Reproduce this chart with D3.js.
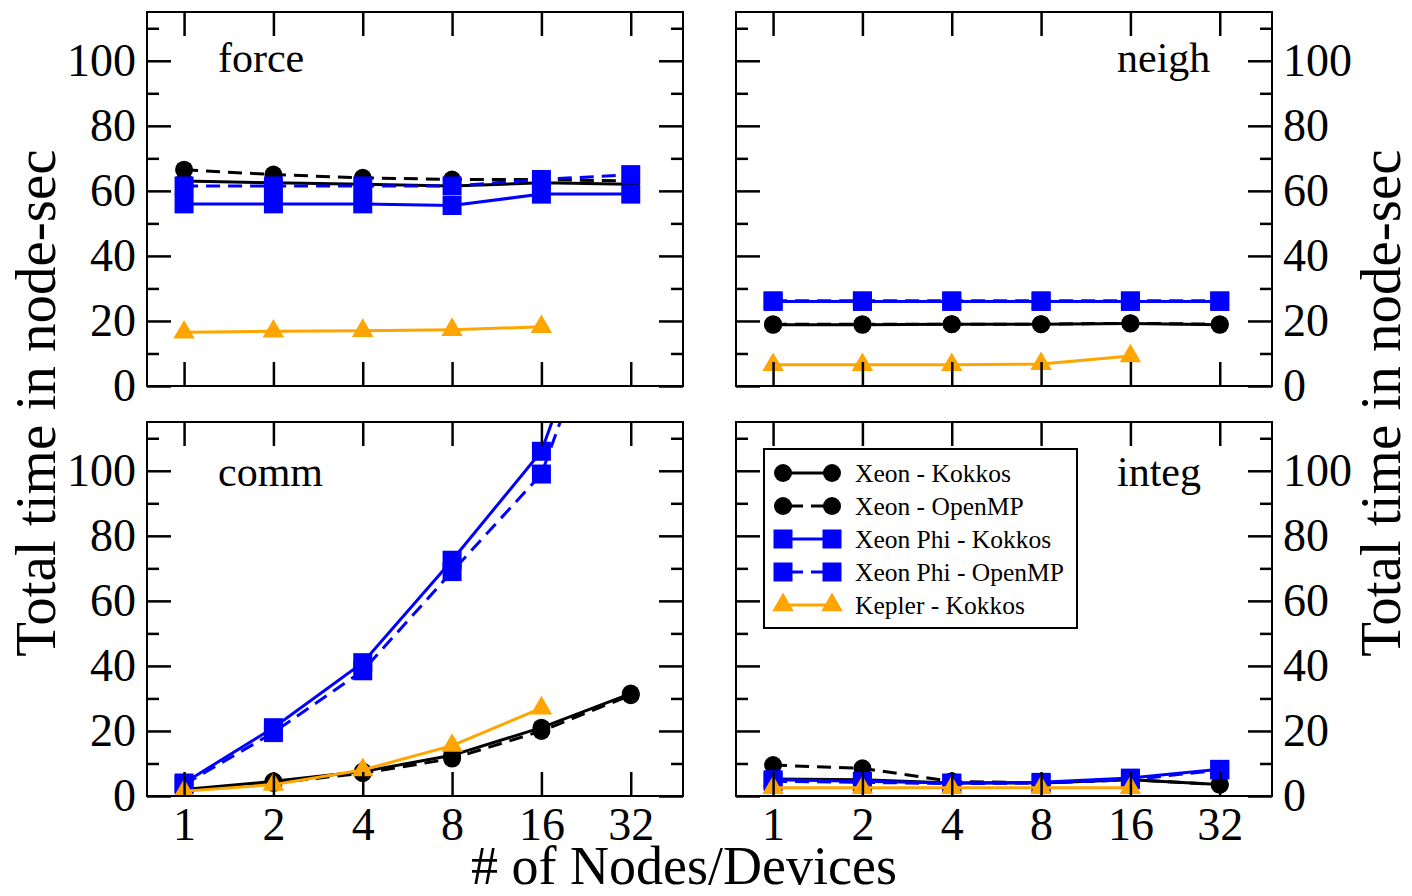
<!DOCTYPE html>
<html>
<head>
<meta charset="utf-8">
<script src="https://cdn.jsdelivr.net/npm/d3@7"></script>
<style>
  body { margin: 0; background: #fff; }
  text { font-family: "Liberation Serif", "Times New Roman", serif; fill: #000; }
</style>
</head>
<body>
<div id="chart"></div>
<script>
// x values (nodes / devices)
const nodes = [1, 2, 4, 8, 16, 32];
const yMajor = [0, 20, 40, 60, 80, 100];
const yMinor = [10, 30, 50, 70, 90, 110];

const seriesNames = ["Xeon - Kokkos", "Xeon - OpenMP", "Xeon Phi - Kokkos", "Xeon Phi - OpenMP", "Kepler - Kokkos"];
const seriesColors = ["#000000", "#000000", "#0000ff", "#0000ff", "#ffa500"];
const seriesDashed = [false, true, false, true, false];
const seriesShapes = ["circle", "circle", "square", "square", "triangle"];

// force
const forceXeonKokkos = [63, 62.5, 62, 61.5, 62.5, 62];
const forceXeonOpenMP = [66.5, 65, 64, 63.5, 63.5, 63];
const forcePhiKokkos = [56, 56, 56, 55.5, 59, 59];
const forcePhiOpenMP = [61.5, 61.5, 61.5, 61.5, 63.5, 65];
const forceKepler = [16.5, 16.8, 17, 17.3, 18.2];

// neigh
const neighXeonKokkos = [18.8, 18.8, 19, 19, 19.2, 18.8];
const neighXeonOpenMP = [19, 19, 19, 19, 19.3, 19];
const neighPhiKokkos = [26, 26, 26, 26, 26, 26];
const neighPhiOpenMP = [26.2, 26.2, 26.2, 26.2, 26.2, 26.2];
const neighKepler = [6.5, 6.5, 6.5, 6.8, 9.2];

// comm
const commXeonKokkos = [2, 4.5, 7.5, 12.5, 21, 31.5];
const commXeonOpenMP = [2, 4, 7, 11.5, 20, 31];
const commPhiKokkos = [4, 21, 41, 72.5, 106, 182];
const commPhiOpenMP = [3.5, 19.5, 38.5, 69, 99, 175];
const commKepler = [1.5, 3.5, 8, 15.5, 27];

// integ
const integXeonKokkos = [5.2, 5, 4, 4, 5, 3.5];
const integXeonOpenMP = [9.5, 8.5, 4.5, 4, 5, 3.5];
const integPhiKokkos = [5, 4.5, 4, 4.2, 5.5, 8.2];
const integPhiOpenMP = [4.5, 4.2, 3.8, 4, 5, 8];
const integKepler = [2.5, 2.5, 2.5, 2.5, 2.5];

const panels = [
  { name: "force", col: 0, row: 0, series: [forceXeonKokkos, forceXeonOpenMP, forcePhiKokkos, forcePhiOpenMP, forceKepler] },
  { name: "neigh", col: 1, row: 0, series: [neighXeonKokkos, neighXeonOpenMP, neighPhiKokkos, neighPhiOpenMP, neighKepler] },
  { name: "comm", col: 0, row: 1, series: [commXeonKokkos, commXeonOpenMP, commPhiKokkos, commPhiOpenMP, commKepler] },
  { name: "integ", col: 1, row: 1, series: [integXeonKokkos, integXeonOpenMP, integPhiKokkos, integPhiOpenMP, integKepler] }
];

// layout
const W = 1412, H = 896;
const pw = 536, ph = 374;
const colX = [147, 736];
const rowY = [12, 422];

const svg = d3.select("#chart").append("svg")
  .attr("width", W)
  .attr("height", H);

const x = d3.scaleLog().base(2).domain([0.75, 48]).range([0, pw]);
const y = d3.scaleLinear().domain([0, 115]).range([ph, 0]);

const symbolType = { circle: d3.symbolCircle, square: d3.symbolSquare, triangle: d3.symbolTriangle };
const symbolSize = { circle: 254, square: 361, triangle: 200 };

const line = d3.line()
  .x(function(d, i) { return x(nodes[i]); })
  .y(function(d) { return y(d); });

function noDomain(g) { g.select(".domain").remove(); }

panels.forEach(function(p, pi) {
  const g = svg.append("g")
    .attr("transform", "translate(" + colX[p.col] + "," + rowY[p.row] + ")");

  g.append("clipPath").attr("id", "clip" + pi)
    .append("rect").attr("width", pw).attr("height", ph);

  const plot = g.append("g").attr("clip-path", "url(#clip" + pi + ")");

  p.series.forEach(function(vals, si) {
    plot.append("path")
      .attr("d", line(vals))
      .attr("fill", "none")
      .attr("stroke", seriesColors[si])
      .attr("stroke-width", 3)
      .attr("stroke-dasharray", seriesDashed[si] ? "14,8" : null);

    plot.selectAll(".m" + si)
      .data(vals)
      .enter()
      .append("path")
        .attr("transform", function(d, i) { return "translate(" + x(nodes[i]) + "," + y(d) + ")"; })
        .attr("d", d3.symbol().type(symbolType[seriesShapes[si]]).size(symbolSize[seriesShapes[si]]))
        .attr("fill", seriesColors[si]);
  });

  // frame
  g.append("rect")
    .attr("width", pw).attr("height", ph)
    .attr("fill", "none").attr("stroke", "#000").attr("stroke-width", 2);

  const left = p.col === 0, bottom = p.row === 1;

  // y ticks, both sides, pointing inward
  g.append("g")
    .call(d3.axisLeft(y).tickValues(yMajor).tickSize(-24).tickPadding(11)
      .tickFormat(left ? d3.format("d") : ""))
    .call(noDomain);
  g.append("g")
    .call(d3.axisLeft(y).tickValues(yMinor).tickSize(-12).tickFormat(""))
    .call(noDomain);
  g.append("g")
    .attr("transform", "translate(" + pw + ",0)")
    .call(d3.axisRight(y).tickValues(yMajor).tickSize(-24).tickPadding(11)
      .tickFormat(left ? "" : d3.format("d")))
    .call(noDomain);
  g.append("g")
    .attr("transform", "translate(" + pw + ",0)")
    .call(d3.axisRight(y).tickValues(yMinor).tickSize(-12).tickFormat(""))
    .call(noDomain);

  // x ticks top and bottom
  g.append("g")
    .call(d3.axisTop(x).tickValues(nodes).tickSize(-24).tickFormat(""))
    .call(noDomain);
  g.append("g")
    .attr("transform", "translate(0," + ph + ")")
    .call(d3.axisBottom(x).tickValues(nodes).tickSize(-24).tickPadding(11)
      .tickFormat(bottom ? d3.format("d") : ""))
    .call(noDomain);

  g.selectAll(".tick line").attr("stroke", "#000").attr("stroke-width", 2.5);
  g.selectAll(".tick text").attr("font-size", 46).attr("font-family", null);

  // panel label
  g.append("text")
    .attr("x", left ? 71 : 381)
    .attr("y", bottom ? 64 : 60)
    .attr("font-size", 42)
    .text(p.name);
});

// axis titles
svg.append("text")
  .attr("transform", "translate(55,403) rotate(-90)")
  .attr("text-anchor", "middle")
  .attr("font-size", 57)
  .text("Total time in node-sec");
svg.append("text")
  .attr("transform", "translate(1400,403) rotate(-90)")
  .attr("text-anchor", "middle")
  .attr("font-size", 57)
  .text("Total time in node-sec");
svg.append("text")
  .attr("x", 684).attr("y", 884)
  .attr("text-anchor", "middle")
  .attr("font-size", 54)
  .text("# of Nodes/Devices");

// legend
const legend = svg.append("g").attr("transform", "translate(764,449)");
legend.append("rect")
  .attr("width", 313).attr("height", 179)
  .attr("fill", "#fff").attr("stroke", "#000").attr("stroke-width", 2);

seriesNames.forEach(function(name, si) {
  const row = legend.append("g").attr("transform", "translate(0," + (24 + si * 33) + ")");
  row.append("line")
    .attr("x1", 19).attr("x2", 68)
    .attr("stroke", seriesColors[si]).attr("stroke-width", 3)
    .attr("stroke-dasharray", seriesDashed[si] ? "14,8" : null)
    .attr("stroke-dashoffset", seriesDashed[si] ? -6 : null);
  [19, 68].forEach(function(mx) {
    row.append("path")
      .attr("transform", "translate(" + mx + ",0)")
      .attr("d", d3.symbol().type(symbolType[seriesShapes[si]]).size(symbolSize[seriesShapes[si]]))
      .attr("fill", seriesColors[si]);
  });
  row.append("text")
    .attr("x", 91).attr("dy", "0.35em")
    .attr("font-size", 25.5)
    .text(name);
});
</script>
</body>
</html>
